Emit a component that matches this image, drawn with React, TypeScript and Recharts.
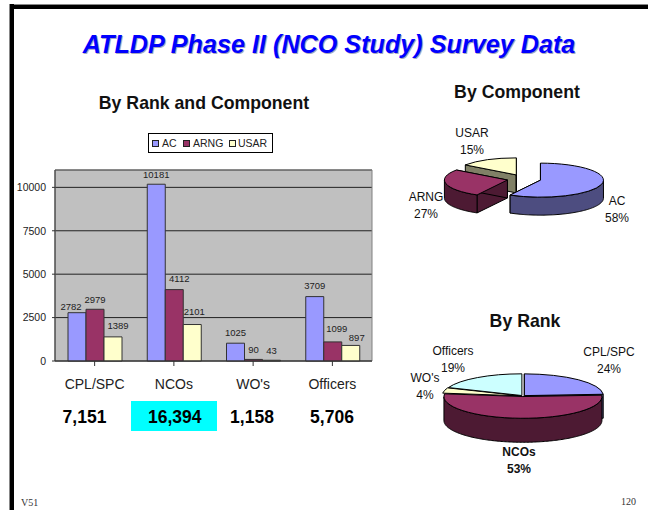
import React from 'react';
import { BarChart, Bar, XAxis, YAxis, CartesianGrid, ReferenceArea, LabelList, Legend, PieChart, Pie, Cell } from 'recharts';

const ranks = ["CPL/SPC", "NCOs", "WO's", "Officers"];
const acValues = [2782, 10181, 1025, 3709];
const arngValues = [2979, 4112, 90, 1099];
const usarValues = [1389, 2101, 43, 897];
const rankTotals = ["7,151", "16,394", "1,158", "5,706"];
const yTicks = [0, 2500, 5000, 7500, 10000];

// Pie slices are listed back to front, so nearer slices paint over farther ones.
const componentNames = ['USAR', 'AC', 'ARNG'];
const componentShares = [15, 58, 27];
const rankPieNames = ["WO's", 'Officers', 'CPL/SPC', 'NCOs'];
const rankPieShares = [4, 19, 24, 53];

const SANS = '"Liberation Sans", Arial, sans-serif';
const SERIF = '"Liberation Serif", "Times New Roman", serif';
const COLORS: Record<string, string> = { AC: '#9999FF', ARNG: '#993366', USAR: '#FFFFCC' };
const SIDE: Record<string, string> = { AC: '#4D4D80', ARNG: '#4D1A33', USAR: '#808066' };
const RANK_COLORS: Record<string, string> = { 'CPL/SPC': '#9999FF', NCOs: '#993366', "WO's": '#FFFFCC', Officers: '#CCFFFF' };
const RANK_SIDE: Record<string, string> = { 'CPL/SPC': '#4D4D80', NCOs: '#4D1A33', "WO's": '#808066', Officers: '#668080' };

const barData = ranks.map((r, i) => ({ rank: r, AC: acValues[i], ARNG: arngValues[i], USAR: usarValues[i] }));
const componentData = componentNames.map((n, i) => ({ name: n, value: componentShares[i] }));
const rankPieData = rankPieNames.map((n, i) => ({ name: n, value: rankPieShares[i] }));

// label nudges relative to the top-centre of each bar
const NUDGE: Record<number, [number, number]> = {
  2782: [-6, -6], 2979: [0, -10], 1389: [5, -11], 10181: [0, -10], 4112: [5, -11], 2101: [2, -13],
  1025: [0, -11], 90: [0, -10], 43: [0, -10], 3709: [0, -11], 1099: [4, -13], 897: [6, -8],
};

function BarValue(props: any) {
  const { x, y, width, value } = props;
  const [dx, dy] = NUDGE[value] || [0, -10];
  return (
    <text x={x + width / 2 + dx} y={y + dy} textAnchor="middle" dominantBaseline="central" fontSize={9.5} fill="#222" fontFamily={SANS}>
      {value}
    </text>
  );
}

function makeSlice(squash: number, depth: number, explode: number, sideColors: Record<string, string>, cutFaces: string[]) {
  return function Slice(props: any) {
    const { cx, cy, outerRadius: r, startAngle, endAngle, fill, name } = props;
    const rad = (d: number) => (d * Math.PI) / 180;
    const mid = rad((startAngle + endAngle) / 2);
    const ox = cx + explode * Math.cos(mid);
    const oy = cy - explode * squash * Math.sin(mid);
    const pt = (d: number, dz = 0) => [ox + r * Math.cos(rad(d)), oy - r * squash * Math.sin(rad(d)) + dz];
    const s = pt(startAngle);
    const e = pt(endAngle);
    const large = Math.abs(endAngle - startAngle) > 180 ? 1 : 0;
    const side = sideColors[name];
    const faceOf = (p: number[]) => `M${ox},${oy}L${p[0]},${p[1]}L${p[0]},${p[1] + depth}L${ox},${oy + depth}Z`;

    const runs: number[][][] = [];
    let run: number[][] = [];
    const n = Math.ceil(Math.abs(endAngle - startAngle));
    for (let i = 0; i <= n; i++) {
      const a = startAngle + ((endAngle - startAngle) * i) / n;
      if (Math.sin(rad(a)) <= 0) run.push(pt(a));
      else if (run.length) { runs.push(run); run = []; }
    }
    if (run.length) runs.push(run);
    const wallPath = (pts: number[][]) => {
      const top = pts.map((p) => `${p[0]},${p[1]}`);
      const bot = pts.slice().reverse().map((p) => `${p[0]},${p[1] + depth}`);
      return 'M' + top.concat(bot).join('L') + 'Z';
    };
    const showFaces = cutFaces.includes(name);
    return (
      <g>
        {showFaces && <path d={faceOf(s)} fill={side} stroke="#000" strokeWidth={1} />}
        {showFaces && <path d={faceOf(e)} fill={side} stroke="#000" strokeWidth={1} />}
        {runs.map((p, i) => <path key={i} d={wallPath(p)} fill={side} stroke="#000" strokeWidth={1} />)}
        <path d={`M${ox},${oy}L${s[0]},${s[1]}A${r},${r * squash} 0 ${large} 1 ${e[0]},${e[1]}Z`} fill={fill} stroke="#000" strokeWidth={1} />
      </g>
    );
  };
}

function makeLabel(spots: Record<string, [number, number]>, boldName?: string) {
  return function SliceLabel(props: any) {
    const { name, value } = props;
    const [x, y] = spots[name];
    return (
      <text x={x} textAnchor="middle" fontFamily={SANS} fontSize={12} fill="#111" fontWeight={name === boldName ? 'bold' : 'normal'}>
        <tspan x={x} y={y}>{name}</tspan>
        <tspan x={x} y={y + 16.5}>{value}%</tspan>
      </text>
    );
  };
}

const TOP_ORIGIN = { left: 390, top: 118 };
const BOT_ORIGIN = { left: 390, top: 338 };
const topSpots: Record<string, [number, number]> = {
  USAR: [472 - 390, 137 - 118], ARNG: [426 - 390, 201 - 118], AC: [617 - 390, 205 - 118],
};
const botSpots: Record<string, [number, number]> = {
  'CPL/SPC': [609 - 390, 356 - 338], Officers: [453 - 390, 355 - 338], "WO's": [425 - 390, 382 - 338], NCOs: [519 - 390, 456 - 338],
};

function LegendBox(props: any) {
  return (
    <div style={{ width: 125, height: 20, boxSizing: 'border-box', border: '1px solid #000', background: '#fff', position: 'relative', fontFamily: SANS, fontSize: 10.5, color: '#222' }}>
      {(props.payload || []).map((p: any, i: number) => {
        const sw = [3, 34, 80][i];
        const tx = [13, 44, 89][i];
        return (
          <React.Fragment key={p.value}>
            <span style={{ position: 'absolute', left: sw, top: 6, width: 7, height: 7, boxSizing: 'border-box', background: p.color, border: '1px solid #222' }} />
            <span style={{ position: 'absolute', left: tx, top: 2.5, lineHeight: '13px' }}>{p.value}</span>
          </React.Fragment>
        );
      })}
    </div>
  );
}

const abs = (style: React.CSSProperties): React.CSSProperties => ({ position: 'absolute', whiteSpace: 'nowrap', ...style });
const heading = (cx: number, cy: number, size = 17.7): React.CSSProperties =>
  abs({ left: cx - 150, width: 300, top: cy - 15, height: 30, lineHeight: '30px', textAlign: 'center', fontFamily: SANS, fontWeight: 'bold', fontSize: size, color: '#111' });

const TOTAL_X = [84.5, 174.7, 252, 332];

export default function App() {
  return (
    <div style={{ position: 'absolute', left: 0, top: 0, width: 648, height: 510, background: '#fff', overflow: 'hidden' }}>
      {/* slide frame */}
      <div style={abs({ left: 9, top: 4, width: 639, height: 5, background: '#000', borderTop: '1px solid #888', boxSizing: 'border-box' })} />
      <div style={abs({ left: 9, top: 4, width: 5, height: 506, background: '#000', borderLeft: '1px solid #888', boxSizing: 'border-box' })} />

      <div style={abs({ left: 0, width: 658, top: 26, height: 36, lineHeight: '36px', textAlign: 'center', fontFamily: SANS, fontWeight: 'bold', fontStyle: 'italic', fontSize: 25.2, color: '#0000FF', textShadow: '1px 1px 0 #a8a8c0' })}>
        ATLDP Phase II (NCO Study) Survey Data
      </div>
      <div style={heading(204, 103)}>By Rank and Component</div>
      <div style={heading(517, 92)}>By Component</div>
      <div style={heading(525, 321)}>By Rank</div>

      <div style={abs({ left: 0, top: 130 })}>
        <BarChart width={380} height={280} data={barData} margin={{ top: 20, right: 8, bottom: 0, left: 0 }} barCategoryGap={13} barGap={0}>
          <CartesianGrid fill="#C0C0C0" stroke="#222" vertical={false} />
          <ReferenceArea y1={0} y2={11000} fill="none" stroke="#808080" strokeWidth={1} />
          <XAxis dataKey="rank" height={49} interval={0} tickSize={5} tickMargin={13} stroke="#333" tick={{ fontFamily: SANS, fontSize: 14, fill: '#222' }} />
          <YAxis width={55} domain={[0, 11000]} ticks={yTicks} interval={0} tickSize={3} tickMargin={6} stroke="#333" tick={{ fontFamily: SANS, fontSize: 10.5, fill: '#222' }} />
          <Legend verticalAlign="top" content={<LegendBox />} wrapperStyle={{ position: 'absolute', left: 148, top: 3, width: 125, height: 20 }} />
          <Bar dataKey="AC" fill={COLORS.AC} stroke="#333" isAnimationActive={false}>
            <LabelList dataKey="AC" content={<BarValue />} />
          </Bar>
          <Bar dataKey="ARNG" fill={COLORS.ARNG} stroke="#333" isAnimationActive={false}>
            <LabelList dataKey="ARNG" content={<BarValue />} />
          </Bar>
          <Bar dataKey="USAR" fill={COLORS.USAR} stroke="#333" isAnimationActive={false}>
            <LabelList dataKey="USAR" content={<BarValue />} />
          </Bar>
        </BarChart>
      </div>

      <div style={abs({ left: 131, top: 401, width: 86, height: 30, background: '#00FFFF' })} />
      {rankTotals.map((t, i) => (
        <div key={t} style={abs({ left: TOTAL_X[i] - 50, width: 100, top: 403, height: 28, lineHeight: '28px', textAlign: 'center', fontFamily: SANS, fontWeight: 'bold', fontSize: 17.5, color: '#000' })}>{t}</div>
      ))}

      <div style={abs(TOP_ORIGIN)}>
        <PieChart width={258} height={115} margin={{ top: 0, right: 0, bottom: 0, left: 0 }}>
          <Pie data={componentData} dataKey="value" nameKey="name" cx={134} cy={61} outerRadius={63} innerRadius={0}
            startAngle={-216} endAngle={-576} isAnimationActive={false} labelLine={false}
            label={makeLabel(topSpots)} shape={makeSlice(0.27, 18, 17, SIDE, componentNames)}>
            {componentData.map((d) => <Cell key={d.name} fill={COLORS[d.name]} />)}
          </Pie>
        </PieChart>
      </div>

      <div style={abs(BOT_ORIGIN)}>
        <PieChart width={258} height={145} margin={{ top: 0, right: 0, bottom: 0, left: 0 }}>
          <Pie data={rankPieData} dataKey="value" nameKey="name" cx={133} cy={58} outerRadius={79} innerRadius={0}
            startAngle={-187.2} endAngle={-547.2} isAnimationActive={false} labelLine={false}
            label={makeLabel(botSpots, 'NCOs')} shape={makeSlice(0.275, 24, 2, RANK_SIDE, ['CPL/SPC'])}>
            {rankPieData.map((d) => <Cell key={d.name} fill={RANK_COLORS[d.name]} />)}
          </Pie>
        </PieChart>
      </div>

      <div style={abs({ left: 21, top: 497, lineHeight: '12px', fontFamily: SERIF, fontSize: 10, color: '#333' })}>V51</div>
      <div style={abs({ left: 621, top: 496, lineHeight: '12px', fontFamily: SERIF, fontSize: 10, color: '#333' })}>120</div>
    </div>
  );
}
